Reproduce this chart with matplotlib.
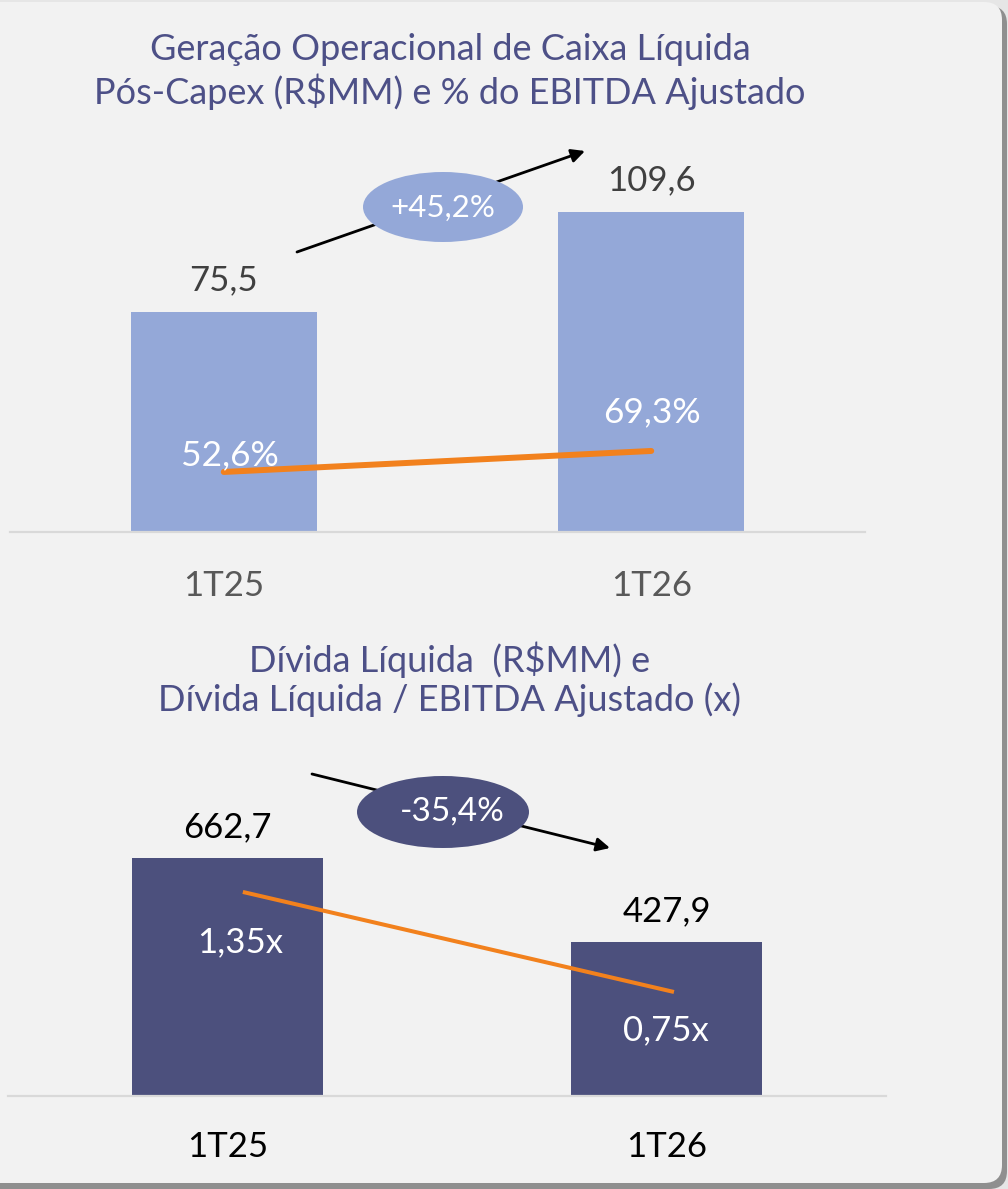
import matplotlib.pyplot as plt
from matplotlib.patches import Ellipse, FancyBboxPatch
import numpy as np

plt.rcParams['font.family'] = ['Lato', 'DejaVu Sans']

W, H = 1008, 1189

categories = ["1T25", "1T26"]

# Geração operacional de caixa líquida pós-capex (R$MM) e % do EBITDA ajustado
fcl_values = [75.5, 109.6]
fcl_labels = ["75,5", "109,6"]
fcl_pct = [52.6, 69.3]
fcl_pct_labels = ["52,6%", "69,3%"]
fcl_growth = "+45,2%"

# Dívida líquida (R$MM) e dívida líquida / EBITDA ajustado (x)
debt_values = [662.7, 427.9]
debt_labels = ["662,7", "427,9"]
debt_lev = [1.35, 0.75]
debt_lev_labels = ["1,35x", "0,75x"]
debt_growth = "-35,4%"

title_top = ["Geração Operacional de Caixa Líquida",
             "Pós-Capex (R$MM) e % do EBITDA Ajustado"]
title_bot = ["Dívida Líquida  (R$MM) e",
             "Dívida Líquida / EBITDA Ajustado (x)"]

LIGHT = "#94A8D8"
DARK = "#4C507D"
ORANGE = "#F2811D"
TITLE = "#4D5087"


def box(x0, y0, x1, y1):
    # pixel box (top-left origin) -> figure fraction
    return [x0 / W, 1 - y1 / H, (x1 - x0) / W, (y1 - y0) / H]


fig = plt.figure(figsize=(W / 100, H / 100), dpi=100, facecolor="#e6e6e6")

# panel background with shadow
bg = fig.add_axes([0, 0, 1, 1], zorder=0)
bg.set_xlim(0, W)
bg.set_ylim(H, 0)
bg.axis("off")
bg.add_patch(FancyBboxPatch((-40, 6), 1047, 1183, boxstyle="round,pad=0,rounding_size=18",
                            fc="#8f8f8f", ec="none"))
bg.add_patch(FancyBboxPatch((-40, 2), 1042, 1181, boxstyle="round,pad=0,rounding_size=18",
                            fc="#f2f2f2", ec="none"))

x = np.arange(len(categories))


def style_axes(ax):
    for s in ["top", "left", "right"]:
        ax.spines[s].set_visible(False)
    ax.spines["bottom"].set_color("#d9d9d9")
    ax.spines["bottom"].set_linewidth(1.6)
    ax.set_facecolor("none")
    ax.set_xticks([])
    ax.set_yticks([])
    ax.set_xlim(-0.5, 1.5)


# ---- top chart
ax1 = fig.add_axes(box(10, 140, 865, 532), zorder=1)
style_axes(ax1)
ax1.bar(x, fcl_values, width=0.435, color=LIGHT)
ax1.set_ylim(0, 392 / 2.917)
for i, (v, lbl) in enumerate(zip(fcl_values, fcl_labels)):
    ax1.annotate(lbl, (i, v), xytext=(0, 23), textcoords="offset points",
                 ha="center", va="center", fontsize=25, color="#404040")
for i, c in enumerate(categories):
    ax1.annotate(c, (i, 0), xytext=(0, -39), textcoords="offset points",
                 ha="center", va="center", fontsize=25, color="#595959")

ax1b = ax1.twinx()
ax1b.set_ylim(4.85, 316.6)
ax1b.axis("off")
ax1b.plot(x, fcl_pct, color=ORANGE, lw=4.3, solid_capstyle="round")
pct_offsets = [(4.5, 12.2), (0.7, 28)]
for i, (v, lbl) in enumerate(zip(fcl_pct, fcl_pct_labels)):
    ax1b.annotate(lbl, (i, v), xytext=pct_offsets[i], textcoords="offset points",
                  ha="center", va="center", fontsize=25.5, color="white")

# ---- bottom chart
ax2 = fig.add_axes(box(8, 740, 886, 1096), zorder=1)
style_axes(ax2)
ax2.bar(x, debt_values, width=0.435, color=DARK)
ax2.set_ylim(0, 356 / 0.3595)
for i, (v, lbl) in enumerate(zip(debt_values, debt_labels)):
    ax2.annotate(lbl, (i, v), xytext=(0, 22), textcoords="offset points",
                 ha="center", va="center", fontsize=25, color="black")
for i, c in enumerate(categories):
    ax2.annotate(c, (i, 0), xytext=(0, -37), textcoords="offset points",
                 ha="center", va="center", fontsize=25, color="black")

ax2b = ax2.twinx()
ax2b.set_ylim(0.126, 2.2616)
ax2b.axis("off")
lev_x = x + np.array([0.035, 0.017])
ax2b.plot(lev_x, debt_lev, color=ORANGE, lw=2.9, solid_capstyle="butt")
lev_offsets = [(-2, -36), (-5.8, -27.4)]
for i, (v, lbl) in enumerate(zip(debt_lev, debt_lev_labels)):
    ax2b.annotate(lbl, (lev_x[i], v), xytext=lev_offsets[i], textcoords="offset points",
                  ha="center", va="center", fontsize=25, color="white")

# ---- overlay: titles, growth bubbles, arrows
ov = fig.add_axes([0, 0, 1, 1], zorder=3)
ov.set_xlim(0, W)
ov.set_ylim(H, 0)
ov.axis("off")

for yy, line in zip([50, 92], title_top):
    ov.text(450, yy, line, ha="center", va="center", fontsize=26, color=TITLE)
for yy, line in zip([660, 700], title_bot):
    ov.text(450, yy, line, ha="center", va="center", fontsize=26, color=TITLE)

arrow = dict(arrowstyle="-|>", color="black", lw=2, mutation_scale=20, shrinkA=0, shrinkB=0)
ov.annotate("", xy=(585, 151), xytext=(297, 252), arrowprops=arrow)
ov.annotate("", xy=(610, 848), xytext=(312, 774), arrowprops=arrow)

ov.add_patch(Ellipse((443, 207), 160, 70, fc=LIGHT, ec="none", zorder=5))
ov.text(443, 208, fcl_growth, ha="center", va="center", fontsize=22.5, color="white", zorder=6)
ov.add_patch(Ellipse((443, 812), 172, 72, fc=DARK, ec="none", zorder=5))
ov.text(452, 812, debt_growth, ha="center", va="center", fontsize=24, color="white", zorder=6)

fig.savefig("out.png", dpi=100, facecolor=fig.get_facecolor())
